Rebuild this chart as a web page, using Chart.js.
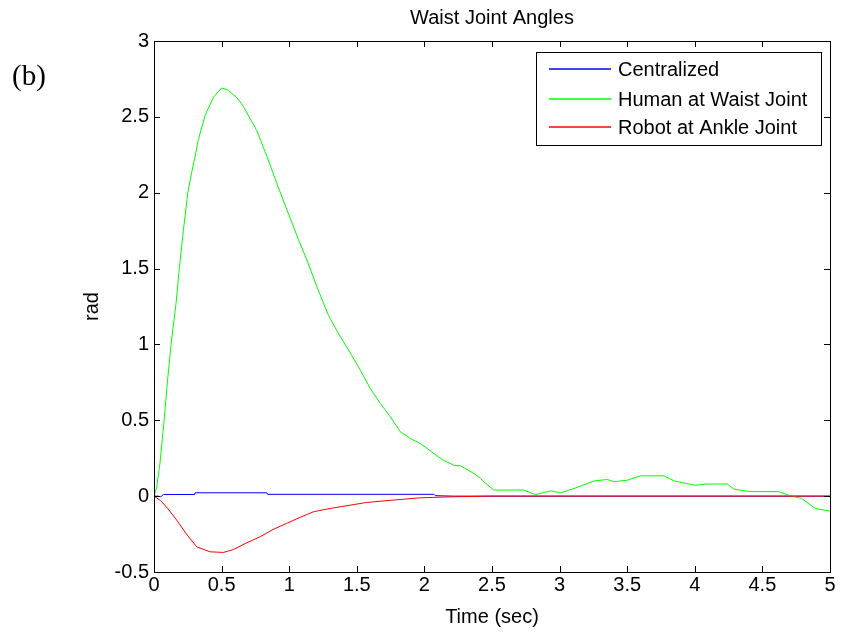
<!DOCTYPE html>
<html>
<head>
<meta charset="utf-8">
<script src="https://cdn.jsdelivr.net/npm/chart.js@4/dist/chart.umd.min.js"></script>
<style>
  html, body { margin: 0; padding: 0; background: #fff; }
  #wrap { position: relative; width: 841px; height: 635px; }
  #tag { position: absolute; left: 12px; top: 58px; font-family: "Liberation Serif", "DejaVu Serif", serif; font-size: 29px; color: #000; line-height: 34px; }
</style>
</head>
<body>
<div id="wrap">
  <canvas id="c" width="841" height="635"></canvas>
  <div id="tag">(b)</div>
</div>
<script>
// ---- data ----
const seriesLabels = ["Centralized", "Human at Waist Joint", "Robot at Ankle Joint"];
const seriesColors = ["#0000ff", "#00ff00", "#ff0000"];

const centralizedT = [0, 0.03, 0.05, 0.07, 0.30, 0.304, 0.835, 0.84, 2.07, 2.08, 2.22, 5.0];
const centralizedV = [0, 0, -0.004, 0.011, 0.011, 0.022, 0.022, 0.012, 0.012, 0.003, 0, 0];

const humanT = [0, 0.02, 0.044, 0.075, 0.1, 0.126, 0.163, 0.187, 0.217, 0.25, 0.28, 0.309, 0.328, 0.378, 0.44, 0.50, 0.54, 0.61, 0.66, 0.76, 0.835, 0.909, 0.995, 1.069, 1.131, 1.205, 1.291, 1.365, 1.44, 1.526, 1.6, 1.674, 1.748, 1.822, 1.896, 1.97, 2.07, 2.14, 2.217, 2.267, 2.365, 2.415, 2.44, 2.513, 2.735, 2.822, 2.933, 3.007, 3.106, 3.254, 3.353, 3.40, 3.50, 3.60, 3.77, 3.85, 4.0, 4.09, 4.24, 4.29, 4.41, 4.62, 4.69, 4.79, 4.89, 5.0];
const humanV = [0, 0.06, 0.215, 0.5, 0.76, 1.0, 1.27, 1.5, 1.75, 2.0, 2.14, 2.26, 2.35, 2.51, 2.63, 2.69, 2.68, 2.63, 2.57, 2.41, 2.24, 2.06, 1.86, 1.69, 1.556, 1.38, 1.19, 1.07, 0.962, 0.83, 0.71, 0.611, 0.523, 0.424, 0.38, 0.347, 0.281, 0.237, 0.204, 0.2, 0.15, 0.117, 0.094, 0.04, 0.04, 0.01, 0.035, 0.022, 0.05, 0.10, 0.11, 0.095, 0.105, 0.134, 0.134, 0.10, 0.072, 0.08, 0.08, 0.046, 0.03, 0.03, 0.007, -0.015, -0.081, -0.099];

const robotT = [0, 0.05, 0.1, 0.168, 0.24, 0.316, 0.415, 0.514, 0.588, 0.68, 0.785, 0.88, 0.98, 1.08, 1.18, 1.28, 1.38, 1.57, 1.77, 1.97, 2.22, 2.5, 5.0];
const robotV = [0, -0.03, -0.08, -0.158, -0.25, -0.334, -0.367, -0.371, -0.352, -0.31, -0.268, -0.22, -0.18, -0.14, -0.103, -0.085, -0.07, -0.042, -0.026, -0.011, -0.004, 0, 0];

const xTickValues = [0, 0.5, 1, 1.5, 2, 2.5, 3, 3.5, 4, 4.5, 5];
const xTickLabels = ["0", "0.5", "1", "1.5", "2", "2.5", "3", "3.5", "4", "4.5", "5"];
const yTickValues = [-0.5, 0, 0.5, 1, 1.5, 2, 2.5, 3];
const yTickLabels = ["-0.5", "0", "0.5", "1", "1.5", "2", "2.5", "3"];

const titleText = "Waist Joint Angles";
const xTitle = "Time (sec)";
const yTitle = "rad";

// ---- build ----
const pts = (t, v) => t.map((x, i) => ({ x: x, y: v[i] }));
const FONT = "'Liberation Sans', Arial, sans-serif";

function labelFor(values, labels, v) {
  for (let i = 0; i < values.length; i++) if (Math.abs(values[i] - v) < 1e-6) return labels[i];
  return "";
}

const boxPlugin = {
  id: "matlabBox",
  afterLayout(chart) {
    const tb = chart.titleBlock;
    if (tb) { tb.left = chart.chartArea.left; tb.right = chart.chartArea.right; tb.width = tb.right - tb.left; }
  },
  afterDatasetsDraw(chart) {
    const ctx = chart.ctx, a = chart.chartArea;
    const xs = chart.scales.x, ys = chart.scales.y;
    const L = 6;
    ctx.save();
    ctx.strokeStyle = "#000";
    ctx.lineWidth = 1;
    ctx.beginPath();
    xs.ticks.forEach(t => {
      const px = Math.round(xs.getPixelForValue(t.value)) + 0.5;
      ctx.moveTo(px, a.bottom); ctx.lineTo(px, a.bottom - L);
      ctx.moveTo(px, a.top); ctx.lineTo(px, a.top + L);
    });
    ys.ticks.forEach(t => {
      const py = Math.round(ys.getPixelForValue(t.value)) + 0.5;
      ctx.moveTo(a.left, py); ctx.lineTo(a.left + L, py);
      ctx.moveTo(a.right, py); ctx.lineTo(a.right - L, py);
    });
    ctx.stroke();
    ctx.strokeRect(Math.round(a.left) + 0.5, Math.round(a.top) + 0.5, Math.round(a.right - a.left), Math.round(a.bottom - a.top));

    // legend
    const lx = 536, ly = 52, lw = 285, lh = 93;
    ctx.fillStyle = "#fff";
    ctx.fillRect(lx, ly, lw, lh);
    ctx.strokeStyle = "#000";
    ctx.strokeRect(lx + 0.5, ly + 0.5, lw, lh);
    ctx.font = "20px " + FONT;
    ctx.textBaseline = "middle";
    ctx.textAlign = "left";
    const rows = [69, 99, 127];
    seriesLabels.forEach((lab, i) => {
      const y = rows[i];
      ctx.strokeStyle = seriesColors[i];
      ctx.lineWidth = 1.4;
      ctx.beginPath(); ctx.moveTo(549, y); ctx.lineTo(611, y); ctx.stroke();
      ctx.fillStyle = "#000";
      ctx.fillText(lab, 618, rows[i] + 1);
    });
    ctx.restore();
  }
};

new Chart(document.getElementById("c"), {
  type: "line",
  data: {
    datasets: [
      { label: seriesLabels[0], data: pts(centralizedT, centralizedV), borderColor: seriesColors[0], order: 3 },
      { label: seriesLabels[1], data: pts(humanT, humanV), borderColor: seriesColors[1], order: 2 },
      { label: seriesLabels[2], data: pts(robotT, robotV), borderColor: seriesColors[2], order: 1 }
    ].map(d => Object.assign(d, { borderWidth: 1, pointRadius: 0, tension: 0, fill: false }))
  },
  options: {
    responsive: false,
    animation: false,
    devicePixelRatio: 1,
    layout: { padding: { left: 0, right: 11, top: 0, bottom: 0 } },
    plugins: {
      legend: { display: false },
      tooltip: { enabled: false },
      title: {
        display: true, text: titleText, color: "#000",
        font: { family: FONT, size: 20, weight: "normal", lineHeight: 1.2 },
        padding: { top: 6, bottom: 11 }
      }
    },
    scales: {
      x: {
        type: "linear", min: 0, max: 5,
        afterFit: s => { s.height = 63; },
        afterBuildTicks: s => { s.ticks = xTickValues.map(v => ({ value: v })); },
        ticks: {
          color: "#000", font: { family: FONT, size: 20 }, padding: 1,
          autoSkip: false, maxRotation: 0,
          callback: v => labelFor(xTickValues, xTickLabels, v)
        },
        grid: { display: false, drawTicks: false },
        border: { display: false },
        title: { display: true, text: xTitle, color: "#000", font: { family: FONT, size: 20 }, padding: { top: 0, bottom: 6 } }
      },
      y: {
        type: "linear", min: -0.5, max: 3,
        afterFit: s => { s.width = 154; },
        afterBuildTicks: s => { s.ticks = yTickValues.map(v => ({ value: v })); },
        ticks: {
          color: "#000", font: { family: FONT, size: 20 }, padding: 5,
          callback: v => labelFor(yTickValues, yTickLabels, v)
        },
        grid: { display: false, drawTicks: false },
        border: { display: false },
        title: { display: true, text: yTitle, color: "#000", font: { family: FONT, size: 20 }, padding: { top: 80, bottom: 0 } }
      }
    }
  },
  plugins: [boxPlugin]
});
</script>
</body>
</html>
